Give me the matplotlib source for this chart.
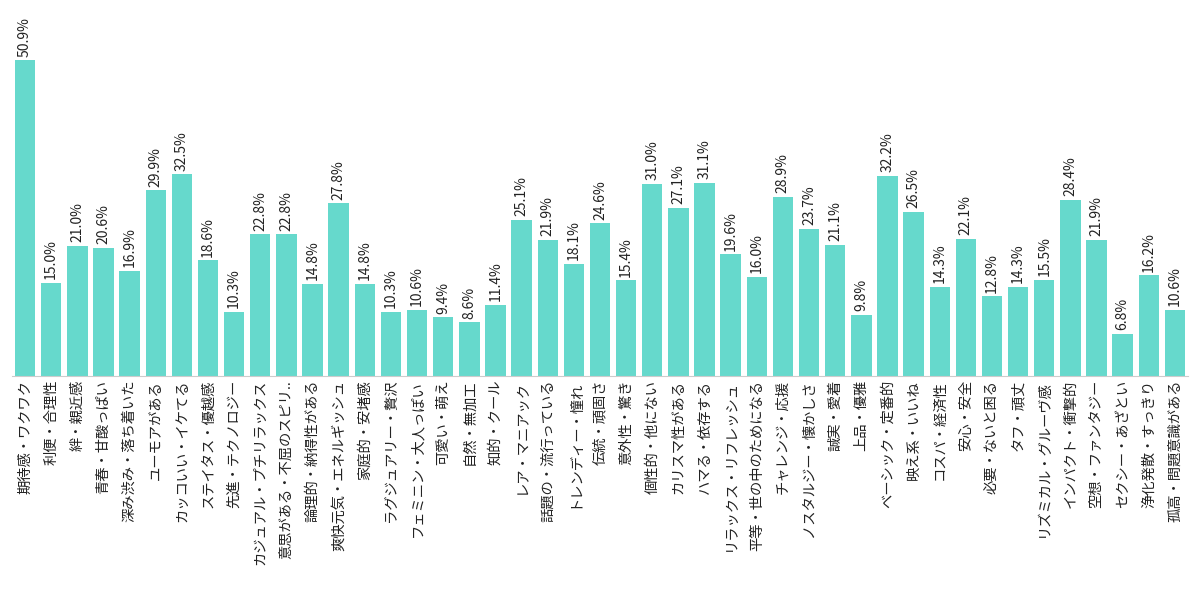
import matplotlib
matplotlib.use("Agg")
import matplotlib.pyplot as plt

plt.rcParams["font.family"] = "Noto Sans CJK JP"

categories = ["期待感・ワクワク","利便・合理性","絆・親近感","青春・甘酸っぱい","深み渋み・落ち着いた",
"ユーモアがある","カッコいい・イケてる","ステイタス・優越感","先進・テクノロジー","カジュアル・プチリラックス",
"意思がある・不屈のスピリ..","論理的・納得性がある","爽快元気・エネルギッシュ","家庭的・安堵感","ラグジュアリー・贅沢",
"フェミニン・大人っぽい","可愛い・萌え","自然・無加工","知的・クール","レア・マニアック",
"話題の・流行っている","トレンディー・憧れ","伝統・頑固さ","意外性・驚き","個性的・他にない",
"カリスマ性がある","ハマる・依存する","リラックス・リフレッシュ","平等・世の中のためになる","チャレンジ・応援",
"ノスタルジー・懐かしさ","誠実・愛着","上品・優雅","ベーシック・定番的","映え系・いいね",
"コスパ・経済性","安心・安全","必要・ないと困る","タフ・頑丈","リズミカル・グルーヴ感",
"インパクト・衝撃的","空想・ファンタジー","セクシー・あざとい","浄化発散・すっきり","孤高・問題意識がある"]
values = [50.9,15.0,21.0,20.6,16.9,29.9,32.5,18.6,10.3,22.8,22.8,14.8,27.8,14.8,10.3,10.6,9.4,8.6,11.4,25.1,
21.9,18.1,24.6,15.4,31.0,27.1,31.1,19.6,16.0,28.9,23.7,21.1,9.8,32.2,26.5,14.3,22.1,12.8,14.3,15.5,
28.4,21.9,6.8,16.2,10.6]

fig = plt.figure(figsize=(12, 6.02), dpi=100)
ax = fig.add_axes([0.01, 0.376, 0.98, 0.535])
x = range(len(values))
ax.bar(x, values, width=0.78, color="#66D9CC")
for i, v in enumerate(values):
    ax.text(i, v + 0.6, f"{v:.1f}%", rotation=90, ha="center", va="bottom", fontsize=10, color="#222222")
ax.set_xlim(-0.5, len(values) - 0.5)
ax.set_ylim(0, 52)
ax.set_xticks(list(x))
ax.set_xticklabels(categories, rotation=90, fontsize=10.3, color="#222222")
ax.tick_params(axis="x", length=0, pad=3)
ax.set_yticks([])
for s in ["top", "right", "left"]:
    ax.spines[s].set_visible(False)
ax.spines["bottom"].set_color("#cccccc")
fig.savefig("out.png", dpi=100)
